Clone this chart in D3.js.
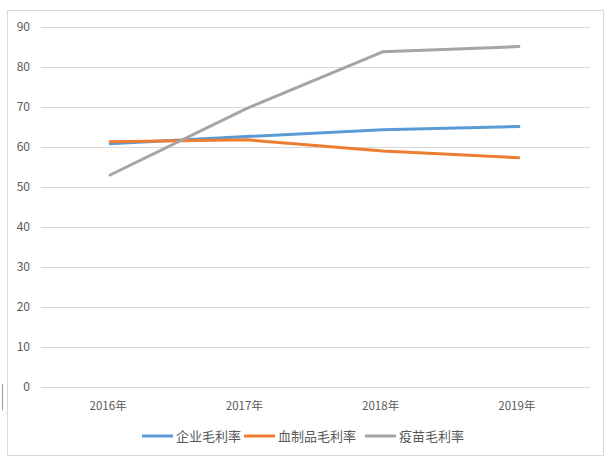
<!DOCTYPE html>
<html>
<head>
    <meta charset="utf-8">
    <title>毛利率</title>
    <script src="https://d3js.org/d3.v7.min.js"></script>
    <style>
        body { margin: 0; background: #fff; }
        svg text { font-family: "Noto Sans CJK SC", "DejaVu Sans", sans-serif; fill: #595959; }
    </style>
</head>
<body>
    <svg id="chart"></svg>
    <script>
        const width = 611;
        const height = 464;

        // data
        const years = ["2016年", "2017年", "2018年", "2019年"];
        const seriesNames = ["企业毛利率", "血制品毛利率", "疫苗毛利率"];
        const qiye = [60.8, 62.6, 64.3, 65.1];
        const xuezhipin = [61.3, 61.8, 59.0, 57.3];
        const yimiao = [53.0, 69.6, 83.8, 85.1];
        const yTicks = [0, 10, 20, 30, 40, 50, 60, 70, 80, 90];
        const colors = ["#5B9BD5", "#ED7D31", "#A5A5A5"];

        const series = [qiye, xuezhipin, yimiao];

        const svg = d3.select("#chart")
            .attr("width", width)
            .attr("height", height);

        // chart frame
        svg.append("rect")
            .attr("x", 7.5).attr("y", 10.5)
            .attr("width", 596).attr("height", 445)
            .attr("fill", "#fff")
            .attr("stroke", "#d9d9d9");

        // small stray mark on the left edge
        svg.append("line")
            .attr("x1", 2.5).attr("x2", 2.5)
            .attr("y1", 384).attr("y2", 410)
            .attr("stroke", "#999");

        const x = d3.scaleBand()
            .domain(years)
            .range([42, 587]);

        const y = d3.scaleLinear()
            .domain([0, 90])
            .range([387, 27]);

        // gridlines
        svg.append("g")
            .selectAll("line")
            .data(yTicks)
            .enter().append("line")
            .attr("x1", 41).attr("x2", 590)
            .attr("y1", d => Math.round(y(d)) + 0.5)
            .attr("y2", d => Math.round(y(d)) + 0.5)
            .attr("stroke", "#d9d9d9")
            .attr("stroke-width", 1);

        // y axis labels
        svg.append("g")
            .selectAll("text")
            .data(yTicks)
            .enter().append("text")
            .attr("x", 30)
            .attr("y", d => y(d))
            .attr("dy", "0.35em")
            .attr("text-anchor", "end")
            .style("font-size", "12px")
            .text(d => d);

        // x axis labels
        svg.append("g")
            .selectAll("text")
            .data(years)
            .enter().append("text")
            .attr("x", d => x(d) + x.bandwidth() / 2 - 2)
            .attr("y", 410)
            .attr("text-anchor", "middle")
            .style("font-size", "11.5px")
            .text(d => d);

        const line = d3.line()
            .x((d, i) => x(years[i]) + x.bandwidth() / 2)
            .y(d => y(d));

        svg.append("g")
            .selectAll("path")
            .data(series)
            .enter().append("path")
            .attr("d", line)
            .attr("fill", "none")
            .attr("stroke", (d, i) => colors[i])
            .attr("stroke-width", 3)
            .attr("stroke-linejoin", "round")
            .attr("stroke-linecap", "round");

        // legend
        const legend = svg.append("g");
        const legendX = [142, 244, 365];
        const items = legend.selectAll("g")
            .data(seriesNames)
            .enter().append("g")
            .attr("transform", (d, i) => `translate(${legendX[i]},436)`);

        items.append("line")
            .attr("x1", 0).attr("x2", 31)
            .attr("y1", 0).attr("y2", 0)
            .attr("stroke", (d, i) => colors[i])
            .attr("stroke-width", 3);

        items.append("text")
            .attr("x", 34)
            .attr("dy", "0.35em")
            .style("font-size", "13px")
            .text(d => d);
    </script>
</body>
</html>
